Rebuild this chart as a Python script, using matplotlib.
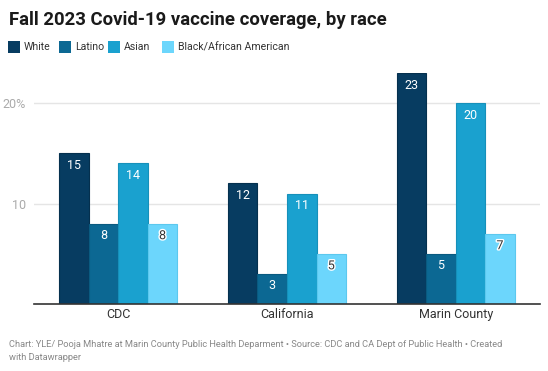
import matplotlib
matplotlib.use("Agg")
import matplotlib.pyplot as plt
import matplotlib.patheffects as pe
import numpy as np

plt.rcParams['font.family'] = ['Roboto', 'DejaVu Sans']

categories = ["CDC", "California", "Marin County"]
series_names = ["White", "Latino", "Asian", "Black/African American"]
white = [15, 12, 23]
latino = [8, 3, 5]
asian = [14, 11, 20]
black = [8, 5, 7]
series_values = [white, latino, asian, black]
colors = ["#073c61", "#0c6893", "#1aa1cf", "#6cd6fc"]
edge_colors = ["#05304e", "#0a5a80", "#1690ba", "#5cc8ee"]
yticks = [10, 20]
ytick_labels = ["10", "20%"]

fig = plt.figure(figsize=(5.48, 3.71), dpi=100)
ax = fig.add_axes([34/548, 1-304/371, (540-34)/548, (304-73)/371])

x = np.arange(len(categories))
bw = 0.175
for i, (name, vals) in enumerate(zip(series_names, series_values)):
    pos = x - 0.35 + bw/2 + i*bw
    ax.bar(pos, vals, width=bw, color=colors[i], edgecolor=edge_colors[i],
           linewidth=0.8, zorder=3)
    for p, v in zip(pos, vals):
        if i == 3:
            ax.text(p, v - 0.55, str(v), ha='center', va='top', fontsize=9,
                    color='#333333', zorder=4,
                    path_effects=[pe.withStroke(linewidth=2, foreground='white')])
        else:
            ax.text(p, v - 0.55, str(v), ha='center', va='top', fontsize=9,
                    color='white', zorder=4)

ax.set_xlim(-0.5, 2.5)
ax.set_ylim(0, 23)
ax.set_yticks(yticks)
ax.set_yticklabels(ytick_labels)
ax.set_xticks(x)
ax.set_xticklabels(categories)
ax.tick_params(axis='y', length=0, labelsize=9, colors='#aaaaaa', pad=6)
ax.tick_params(axis='x', length=0, labelsize=9, colors='#333333', pad=3)
ax.grid(axis='y', color='#e5e5e5', linewidth=1, zorder=0)
for s in ['top', 'right', 'left']:
    ax.spines[s].set_visible(False)
ax.spines['bottom'].set_color('#333333')
ax.spines['bottom'].set_linewidth(1.2)
ax.spines['bottom'].set_zorder(5)

fig.text(9/548, 1-20/371, "Fall 2023 Covid-19 vaccine coverage, by race",
         fontsize=13.3, fontweight='bold', color='#1a1a1a', va='center', ha='left')

# legend
legend_text_x = [24, 75, 124, 178]
for name, c, tx in zip(series_names, colors, legend_text_x):
    fig.patches.append(matplotlib.patches.Rectangle(((tx-16)/548, 1-53/371), 12/548, 11.5/371,
                       transform=fig.transFigure, facecolor=c, edgecolor='none'))
    fig.text(tx/548, 1-47.5/371, name, fontsize=7.6, color='#333333',
             va='center', ha='left')

fig.text(9/548, 1-351/371,
         "Chart: YLE/ Pooja Mhatre at Marin County Public Health Deparment \u2022 Source: CDC and CA Dept of Public Health \u2022 Created\nwith Datawrapper",
         fontsize=6.7, color='#888888', va='center', ha='left', linespacing=1.45)

fig.savefig("out.png", dpi=100)
